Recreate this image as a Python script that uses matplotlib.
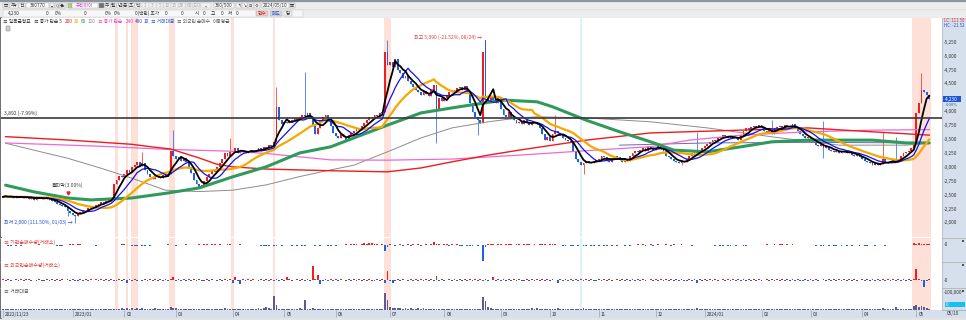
# coding=utf-8
# 일봉 차트 (360/500) - 가격, 이동평균, 기관/외국인 순매수, 거래대금

import numpy as np
import pandas as pd
import matplotlib
matplotlib.use('Agg')
import matplotlib.pyplot as plt
from matplotlib.patches import Rectangle

plt.rcParams['font.family'] = ['Noto Sans CJK KR', 'DejaVu Sans']

W, H = 966, 320

# ---------------- data ----------------
krx_holidays = ['2022-12-30', '2023-01-23', '2023-01-24', '2023-03-01', '2023-05-01',
                '2023-05-05', '2023-05-29', '2023-06-06', '2023-08-15', '2023-09-28',
                '2023-09-29', '2023-10-02', '2023-10-03', '2023-10-09', '2023-12-25',
                '2023-12-29', '2024-01-01', '2024-02-09', '2024-02-12', '2024-03-01',
                '2024-04-10', '2024-05-01', '2024-05-06']
dates = pd.bdate_range('2022-11-23', '2024-05-10')
dates = dates[~dates.isin(pd.to_datetime(krx_holidays))]

close_2211 = [2470, 2490, 2460, 2480, 2450, 2470]
close_2212 = [2460, 2480, 2450, 2470, 2440, 2460, 2420, 2450, 2470, 2440, 2430, 2450, 2410,
              2400, 2380, 2350, 2320, 2300, 2280, 2220, 2180]
close_2301 = [2150, 2120, 2180, 2200, 2240, 2230, 2270, 2300, 2290, 2330, 2350, 2380, 2360,
              2400, 2420, 2450, 2700, 2780, 2850, 2820]
close_2302 = [2880, 2950, 2920, 3000, 3050, 3100, 3020, 3080, 2950, 2880, 2820, 2800, 2850,
              2830, 2810, 2860, 2840, 2880, 3300, 3200]
close_2303 = [3150, 3180, 3120, 3160, 3100, 3000, 2900, 2780, 2700, 2650, 2680, 2750, 2820,
              2880, 2950, 2920, 3000, 3080, 3150, 3250, 3200, 3280]
close_2304 = [3300, 3350, 3260, 3300, 3280, 3250, 3300, 3320, 3280, 3300, 3340, 3320, 3360,
              3350, 3400, 3380, 3450, 4080, 3850, 3780]
close_2305 = [3820, 3800, 3850, 3830, 3880, 3850, 3900, 3950, 3920, 3980, 3900, 3750, 3600,
              3700, 3850, 3900, 3950, 3880, 3750, 3620]
close_2306 = [3560, 3520, 3600, 3540, 3500, 3580, 3620, 3650, 3700, 3680, 3750, 3800, 3850,
              3900, 3880, 3950, 3920, 3980, 4000, 5080, 4850]
close_2307 = [4900, 4800, 4950, 4750, 4700, 4600, 4650, 4550, 4500, 4450, 4400, 4350, 4300,
              4380, 4320, 4280, 4400, 4480, 4050, 4250, 4200]
close_2308 = [4250, 4300, 4350, 4400, 4380, 4420, 4450, 4400, 4460, 4350, 4150, 4000, 3900,
              3850, 3800, 5080, 4250, 4200, 4280, 4220, 4150, 4250]
close_2309 = [4050, 3950, 3900, 4000, 3880, 3850, 3800, 3820, 3780, 3850, 3800, 3760, 3800,
              3820, 3780, 3700, 3600, 3500, 3550]
close_2310 = [3480, 3600, 3650, 3620, 3580, 3520, 3500, 3480, 3450, 3300, 3150, 3100, 3050,
              3080, 3120, 3100, 3080, 3100, 3130]
close_2311 = [3150, 3200, 3180, 3120, 3100, 3150, 3200, 3180, 3130, 3100, 3150, 3120, 3200,
              3250, 3300, 3280, 3320, 3350, 3300, 3380, 3350, 3320]
close_2312 = [3350, 3380, 3330, 3300, 3200, 3180, 3150, 3120, 3100, 3080, 3120, 3100, 3150,
              3200, 3250, 3280, 3260, 3300, 3350]
close_2401 = [3380, 3420, 3450, 3500, 3480, 3530, 3550, 3580, 3560, 3530, 3550, 3520, 3540,
              3500, 3580, 3650, 3700, 3680, 3720, 3750, 3730, 3760]
close_2402 = [3700, 3650, 3620, 3680, 3600, 3700, 3720, 3750, 3700, 3760, 3740, 3720, 3780,
              3700, 3650, 3600, 3560, 3520, 3540]
close_2403 = [3500, 3450, 3400, 3380, 3420, 3350, 3380, 3320, 3300, 3280, 3300, 3260, 3280,
              3300, 3250, 3280, 3230, 3200, 3220, 3180]
close_2404 = [3150, 3120, 3100, 3080, 3050, 3070, 3040, 3060, 3150, 3100, 3080, 3100, 3120,
              3100, 3150, 3200, 3250, 3280, 3300, 3350, 3400]
close_2405 = [3980, 4150, 4400, 4350, 4300, 4230]

# gap opens and long wicks (bar index -> price)
open_gap = {187: 5300}
high_wick = {54: 3280, 66: 3670, 88: 3530, 106: 4450, 117: 4720, 149: 5300, 187: 5260,
             214: 3940, 269: 3640, 298: 3860, 318: 3830, 341: 3640, 346: 3550, 356: 4700}
low_wick = {25: 2130, 28: 2000, 168: 3440, 184: 3580, 225: 2880, 263: 3050, 318: 3170}

# notes printed on the chart
high_note = (187, 5390, -21.52)
low_note = (28, 2000, 111.50)
line_price = 3892
line_pct = -7.99
price_now = 4230

# long moving averages (bar index, price)
ma60_idx = [1, 12, 25, 34, 50, 64, 76, 89, 102, 115, 127, 136, 149, 162, 174, 181, 194, 207,
            213, 226, 239, 251, 260, 273, 286, 298, 312, 324, 337, 350, 359]
ma60_val = [2680, 2560, 2450, 2415, 2450, 2540, 2630, 2830, 3010, 3260, 3370, 3530, 3760, 3980,
            4070, 4120, 4210, 4180, 4090, 3850, 3640, 3460, 3310, 3280, 3370, 3460, 3490, 3490,
            3490, 3440, 3440]
ma120_idx = [1, 12, 25, 38, 50, 63, 76, 89, 102, 115, 127, 136, 149, 162, 174, 188, 200, 207,
             226, 251, 273, 298, 324, 350, 359]
ma120_val = [3435, 3310, 3165, 2985, 2805, 2590, 2565, 2590, 2685, 2835, 2955, 3040, 3280, 3530,
             3710, 3820, 3890, 3910, 3890, 3820, 3710, 3550, 3400, 3400, 3440]
ma200_idx = [1, 25, 50, 57, 65, 76, 83, 89, 102, 127, 149, 162, 174, 188, 200, 213, 226, 251,
             286, 312, 337, 359]
ma200_val = [3553, 3493, 3415, 3373, 3330, 3170, 3055, 3010, 2970, 2940, 2920, 2990, 3100, 3220,
             3310, 3400, 3490, 3620, 3670, 3710, 3640, 3580]
ma240_idx = [1, 38, 63, 89, 102, 127, 149, 174, 200, 226, 251, 266, 286, 312, 337, 359]
ma240_val = [3440, 3380, 3325, 3290, 3250, 3135, 3130, 3150, 3220, 3300, 3373, 3490, 3580, 3640,
             3670, 3680]
ma480_idx = [239, 273, 312, 359]
ma480_val = [3400, 3440, 3450, 3440]

# 기관 / 외국인 순매수 : '+' 소량 매수, '-' 소량 매도, '.' 없음 (+ 큰 값)
inst_marks = ('..--.-.-..' '....+.....' '.---..++.+' '+.....-...' '......++..' '---.--.-..'
              '....+..-..' '.+....+.++' '.++.+..++.' '..+.......' '----.--.-.' '..-.-.--..'
              '.-.-..--.-' '...+.+++.+' '.+.+++.+++' '+.-.+-.+-+' '.+-.+.+.++' '.++-+.+--.'
              '---.-.-.++' '+.++.+++.+' '+.+++.+.++' '+.+++..--.' '--.-.--.--' '.-.--.-.-.'
              '.-.-..+.+-' '.+-.+..+.-' '+..+...-..' '......-.--' '.--.-..--.' '......+..+'
              '.++.+.+...' '.....-.--.' '-.--.-.-.-' '..-.--..-.' '..-.......' '...++.++++')
inst_big = {140: 10, 142: 10, 143: 10, 148: -30, 149: -10, 167: 15, 186: -80, 187: -10,
            353: 10, 355: 8}
frgn_marks = ('+-+-.+-+-+' '+-.-+--+-+' '-+-+.+-+--' '+-+-+.+-+-' '+-+--+-+.+' '-+-.-+-+-+'
              '-+-+-+.-+-' '+-+-+-+--+' '-+.-+-+-+-' '+--+-+-+.-' '+-+-+-+-+-' '-+-.+-+-+-'
              '-+-+-+-+-+' '-+.-+-+-+-' '+-+--+-+-+' '-+-+-+.-+-' '+-+-+-+-+-' '+-.+-+-+-+'
              '-+-+-+-+-.' '+-+-+-+-+-' '+--+-+-+-+' '-+-+.-+-+-' '+-+-+-+-+-' '-+-+-+-.+-'
              '+-+-+-+-+-' '.+-+-+-+-+' '-+-+--+-+-' '+-+-+-+-.+' '-+-+-+-+-+' '-+-+-.+-+-'
              '+-+-+-+-+-' '-+-+-+-.+-' '+-+-+-+-+-' '+-.+-+-+-+' '-+-+-+-+-+' '-+-+-+-+-+')
frgn_big = {48: -15, 66: 15, 89: -15, 90: 15, 92: -20, 110: 15, 120: 70, 122: 25, 123: -20,
            148: -15, 149: 45, 151: -15, 168: 20, 190: 15, 215: -15, 269: -15, 354: 55, 357: -35}
# 거래대금 : 숫자 x 3,000 (+ 큰 값)
tv_marks = ('1212112121' '2112121121' '1211212112' '1212121121' '2112123232' '3231212123'
            '2121232312' '1212121212' '1212123212' '1212121212' '2323212121' '2121212121'
            '2121212121' '2121212121' '2121212121' '3434323232' '2323212121' '2121212121'
            '2121212323' '2121212121' '1212121212' '1212121212' '1212121212' '1212121212'
            '1212121212' '1212121212' '1212121212' '1212121212' '1212121212' '1212121212'
            '1212121212' '1212121212' '1212121212' '1212121212' '1212121212' '1212123232')
tv_big = {50: 12000, 54: 12000, 65: 18000, 66: 12000, 99: 12000, 102: 18000, 105: 82000,
          106: 29000, 115: 12000, 117: 59000, 120: 12000, 148: 100000, 149: 59000,
          150: 18000, 151: 12000, 186: 76000, 187: 53000, 188: 18000, 189: 12000,
          205: 12000, 207: 12000, 215: 12000, 225: 12000, 269: 12000, 341: 12000,
          346: 18000, 353: 24000, 354: 29000, 355: 18000, 356: 24000, 357: 18000}

hot_days = [44, 48, 50, 51, 52, 65, 66, 89, 105, 148, 149, 150,
            353, 354, 355, 356, 357, 358, 359]
cool_days = [224]

legend_labels = ['≡ 일목균형표', '≡ 종가 단순 5', '200', '20', '60', '120', '≡ 종가 단순', '240',
                 '480', '10', '≡ 거래대금', '≡ 외국인 순매수', '이동평균']
legend_colors = ['#333333', '#333333', '#e02020', '#f0a000', '#1d9a50', '#888888', '#e040c0',
                 '#e040c0', '#4b4bb0', '#2020ff', '#2050d0', '#555555', '#555555']

# ---------------- build series ----------------
closes = np.array(close_2211 + close_2212 + close_2301 + close_2302 + close_2303 + close_2304
                  + close_2305 + close_2306 + close_2307 + close_2308 + close_2309 + close_2310
                  + close_2311 + close_2312 + close_2401 + close_2402 + close_2403 + close_2404
                  + close_2405, dtype=float)
n = len(closes)
assert n == len(dates), (n, len(dates))
xs = np.arange(n)
opens = np.r_[closes[0], closes[:-1]]
for i, v in open_gap.items():
    opens[i] = v
highs = np.maximum(opens, closes)
lows = np.minimum(opens, closes)
for i, v in high_wick.items():
    highs[i] = v
for i, v in low_wick.items():
    lows[i] = v

sign = {'+': 5, '-': -5, '.': 0}
inst = np.array([sign[c] for c in inst_marks], dtype=float)
frgn = np.array([sign[c] for c in frgn_marks], dtype=float)
tv = np.array([int(c) * 3000 for c in tv_marks], dtype=float)
for i, v in inst_big.items():
    inst[i] = v
for i, v in frgn_big.items():
    frgn[i] = v
for i, v in tv_big.items():
    tv[i] = v
assert len(inst) == n and len(frgn) == n and len(tv) == n

s = pd.Series(closes)
ma5 = s.rolling(5, min_periods=1).mean()
ma10 = s.rolling(10, min_periods=1).mean()
ma20 = s.rolling(20, min_periods=1).mean()

RED = '#f01e1e'
BLUE = '#1f5fe0'
HOT = '#fde1d9'
COOL = '#ddf3fb'
PANEL = '#d6e0ec'
GRID = '#b4b4b4'

# ---------------- figure ----------------
fig = plt.figure(figsize=(W / 100, H / 100), dpi=100)
fig.patch.set_facecolor('white')


def px_axes(x0, y0, x1, y1):
    a = fig.add_axes([x0 / W, 1 - y1 / H, (x1 - x0) / W, (y1 - y0) / H])
    return a


def clean(a):
    a.set_xticks([])
    a.set_yticks([])
    for sp in a.spines.values():
        sp.set_visible(False)


bg = fig.add_axes([0, 0, 1, 1])
bg.set_zorder(-1)
bg.set_xlim(0, W)
bg.set_ylim(H, 0)
bg.axis('off')

XL = (-0.78, 363.95)
ax = px_axes(1, 18, 942, 237)
ax_inst = px_axes(1, 238, 942, 262)
ax_frgn = px_axes(1, 262, 942, 288)
ax_tv = px_axes(1, 288, 942, 310)
ax_date = px_axes(1, 310, 942, 318)
for a in (ax, ax_inst, ax_frgn, ax_tv, ax_date):
    a.set_xlim(*XL)
    clean(a)
ax_date.set_facecolor(PANEL)
ax.set_ylim(1748, 5687)
ax_inst.set_ylim(-85, 35)
ax_frgn.set_ylim(-40, 90)
ax_tv.set_ylim(0, 129400)
ax_date.set_ylim(0, 1)

# highlighted days
for a in (ax, ax_inst, ax_frgn, ax_tv):
    for d in hot_days:
        a.axvspan(d - 0.5, d + 0.5, color=HOT, lw=0, zorder=0)
    for d in cool_days:
        a.axvspan(d - 0.5, d + 0.5, color=COOL, lw=0, zorder=0)

# candles
up = closes >= opens
cols = np.where(up, RED, BLUE)
ax.vlines(xs, lows, highs, colors=cols, lw=0.5, zorder=3)
body_lo = np.minimum(opens, closes)
body_h = np.maximum(np.abs(closes - opens), 10)
ax.bar(xs, body_h, 0.72, bottom=body_lo, color=cols, lw=0, zorder=3)

# moving averages
ax.plot(ma120_idx, ma120_val, color='#8c8c8c', lw=0.7, zorder=4)
ax.plot(ma480_idx, ma480_val, color='#6a6ab0', lw=0.7, zorder=4)
ax.plot(ma240_idx, ma240_val, color='#ee6ad0', lw=0.9, zorder=4)
ax.plot(ma200_idx, ma200_val, color='#ee1c1c', lw=1.0, zorder=4)
ax.plot(ma60_idx, ma60_val, color='#2f9a5c', lw=2.2, zorder=4, solid_capstyle='round')
ax.plot(xs, ma20, color='#f5a800', lw=1.6, zorder=5)
ax.plot(xs, ma10, color='#1212f0', lw=0.9, zorder=6)
ax.plot(xs, ma5, color='#000000', lw=1.3, zorder=7)

# reference line
ax.axhline(line_price, color='#3a3a3a', lw=1.2, zorder=8)
ax.text(0.2, line_price + 35, f'{line_price:,} ({line_pct:.2f}%)', fontsize=3.6,
        color='#333333', va='bottom', ha='left', zorder=9)

# high / low notes
hi_i, hi_p, hi_pct = high_note
lo_i, lo_p, lo_pct = low_note
ax.annotate(f'최고 {hi_p:,} ({hi_pct:.2f}%, {dates[hi_i]:%m/%d}) →', xy=(hi_i, highs[hi_i]),
            xytext=(-2.5, 1.5), textcoords='offset points', ha='right', va='bottom',
            fontsize=3.6, color='#e8383d', zorder=9)
ax.annotate(f'최저 {lo_p:,} ({lo_pct:.2f}%, {dates[lo_i]:%m/%d}) →', xy=(lo_i, lows[lo_i]),
            xytext=(-2, 0.5), textcoords='offset points', ha='right', va='center',
            fontsize=3.6, color='#2a4fd0', zorder=9)
ax.plot(25, highs[25] + 260, marker='v', ms=2.2, color=RED, zorder=9)
ax.annotate('돌파막(3.00%)', xy=(25, highs[25]), xytext=(0, 14), textcoords='offset points',
            ha='center', va='bottom', fontsize=3.6, color='#444444', zorder=9)
ax.add_patch(Rectangle((1.2, 5460), 1.6, 80, facecolor='#cfcfcf', edgecolor='#777777', lw=0.3,
                       zorder=9))

# sub panels
ax_inst.bar(xs, inst, 0.72, color=np.where(inst > 0, RED, BLUE), lw=0, zorder=3)
ax_frgn.bar(xs, frgn, 0.72, color=np.where(frgn > 0, RED, BLUE), lw=0, zorder=3)
ax_tv.bar(xs, tv, 0.72, color='#5d5c92', lw=0, zorder=3)

ax_inst.text(0.5, 28, '≡ 기관순매수량(거래소)', fontsize=3.6, color='#e03c3c', va='top')
ax_frgn.text(0.5, 86, '≡ 외국인순매수량(거래소)', fontsize=3.6, color='#e03c3c', va='top')
ax_tv.text(0.5, 125000, '≡ 거래대금', fontsize=3.6, color='#555555', va='top')

# date axis
month_first = [0] + [i for i in range(1, n) if dates[i].month != dates[i - 1].month]
last_lab = -100
for i in month_first:
    d = dates[i]
    if i - last_lab < 15:
        continue
    if i == 0:
        lab = f'{d:%Y/%m/%d}'
    elif d.month == 1:
        lab = f'{d:%Y/%m}'
    else:
        lab = f'{d:%m}'
    last_lab = i
    ax_date.vlines(i, 0.15, 1, color='#8a96a8', lw=0.4)
    ax_date.text(i + 0.8, 0.45, lab, fontsize=3.4, color='#333333', va='center', ha='left')

# ---------------- decorations (pixel space) ----------------
# toolbar
bg.add_patch(Rectangle((0, 0), W, 18, facecolor='#ececec', edgecolor='none'))
bg.plot([0, W], [0.8, 0.8], color='#8e949b', lw=1.6)
bg.plot([0, W], [9.3, 9.3], color='#dadada', lw=0.4)
bg.plot([0, W], [17.6, 17.6], color='#c2c2c2', lw=0.5)


def box(x, y, w, h, fc, ec='#a8a8a8', text=None, tc='#333333', fs=3.4):
    bg.add_patch(Rectangle((x, y), w, h, facecolor=fc, edgecolor=ec, lw=0.35))
    if text:
        bg.text(x + w / 2, y + h / 2, text, fontsize=fs, color=tc, ha='center', va='center')


box(3, 2.8, 6, 5.6, '#f6f6f6', text='▤', fs=3)
box(10, 2.8, 8, 5.6, '#ffffff', text='주▾')
box(19, 2.8, 6, 5.6, '#ffffff', text='전')
box(26, 2.8, 23, 5.6, '#ffffff', text='360770')
box(50, 2.8, 4, 5.6, '#f6f6f6', text='▾', fs=3)
box(55, 2.8, 4.5, 5.6, '#f6f6f6', text='Q', fs=3)
box(60, 2.8, 6, 5.6, '#f6f6f6', text='◆▸', fs=2.8)
box(68, 2.8, 4, 5.6, '#a9cf8a')
box(72, 2.8, 26, 5.6, '#ffffff', text='유티아이', tc='#c83cc0')
box(99, 2.8, 4.5, 5.6, '#707070')
for k, t in enumerate(['주', '월', '년', '분', '초', '틱']):
    box(104.5 + k * 6, 2.8, 5.5, 5.6, '#ffffff', text=t)
for k, t in enumerate(['1', '3', '5', '10', '15', '30', '60', '120']):
    box(142 + k * 7.3, 2.8, 6.6, 5.6, '#f3f3f3', ec='#c8c8c8', text=t, tc='#a6a6a6')
box(201, 2.8, 10, 5.6, '#f3f3f3', ec='#c8c8c8', text='▾', tc='#888888', fs=3)
box(214, 2.8, 20, 5.6, '#ffffff', text='360/500')
for k, t in enumerate(['↰', '↘', '⊟', '⚙']):
    box(236 + k * 6, 2.8, 5.5, 5.6, '#f6f6f6', text=t, fs=3)
box(262, 2.8, 27, 5.6, '#ffffff', text='2024/05/10')
box(289.5, 2.8, 5, 5.6, '#f6f6f6', text='▦', fs=3)

bg.add_patch(Rectangle((3, 10.2), 300, 6.4, facecolor='#f7f7f7', edgecolor='#c8c8c8', lw=0.35))
row2 = [(14, '4,230'), (47, '0'), (58, '0%'), (85, '0'), (108, '0%'), (117, '0%'),
        (147, '0(백만) 조가'), (166, '0'), (182, '0'), (197, '시'), (204, '0'), (213, '고'),
        (222, '0'), (230, '저'), (237, '0')]
for xp, t in row2:
    bg.text(xp, 13.4, t, fontsize=3.4, color='#333333', ha='center', va='center')
box(256, 10.6, 12, 5.6, '#f6cbc6', text='현수', tc='#b03030')
box(270, 10.6, 12, 5.6, '#c9d9f0', text='매도', tc='#3050a0')
box(284, 10.6, 8, 5.6, '#f6f6f6', text='탐')

# right price panel
bg.add_patch(Rectangle((942, 18), W - 942, 292, facecolor=PANEL, edgecolor='none'))
bg.plot([942, 942], [18, 310], color='#a9b6c8', lw=0.5)
bg.add_patch(Rectangle((0, 310), W, 8, facecolor=PANEL, edgecolor='none'))
bg.add_patch(Rectangle((0, 318), W, 2, facecolor='#e4e4e4', edgecolor='none'))
bg.plot([0.6, 0.6], [18, 318], color='#555555', lw=1.2)
for yy in (237.6, 262, 288.2):
    bg.plot([0, W], [yy, yy], color=GRID, lw=0.6)
bg.plot([0, W], [310.2, 310.2], color='#9aa6b6', lw=0.5)

ov = fig.add_axes([0, 0, 1, 1])
ov.set_zorder(20)
ov.patch.set_visible(False)
ov.set_xlim(0, W)
ov.set_ylim(H, 0)
ov.axis('off')

# legend row, laid out one piece after another
renderer = fig.canvas.get_renderer()
xp = 3
for t, c in zip(legend_labels, legend_colors):
    tx = ov.text(xp, 21.6, t, fontsize=3.4, color=c, ha='left', va='center')
    xp = tx.get_window_extent(renderer).x1 + (3 if t.startswith('≡') or t == '120' else 1.5)

# price scale
trans = ax.get_yaxis_transform()
for p in range(2000, 5251, 250):
    if abs(p - price_now) < 100:
        continue
    ax.text(1.002, p, f'-{p:,}', transform=trans, fontsize=3.4, color='#333333',
            ha='left', va='center', clip_on=False)
ax.text(1.002, price_now, f' {price_now:,}    ', transform=trans, fontsize=3.4,
        color='white', ha='left', va='center', clip_on=False, zorder=12,
        bbox=dict(boxstyle='square,pad=0.1', fc='#1d56d0', ec='none'))
ax.text(1.004, price_now - 115, '0.00%', transform=trans, fontsize=3.0, color='#1d56d0',
        ha='left', va='center', clip_on=False)
ov.text(944, 21.0, 'LC: 111.50', fontsize=3.1, color='#e03030', ha='left', va='center')
ov.text(944, 25.8, 'HC: -21.52', fontsize=3.1, color='#2050d0', ha='left', va='center')

ax_inst.text(1.002, 0, '-0', transform=ax_inst.get_yaxis_transform(), fontsize=3.4,
             color='#333333', ha='left', va='center', clip_on=False)
ax_frgn.text(1.002, 0, '-0', transform=ax_frgn.get_yaxis_transform(), fontsize=3.4,
             color='#333333', ha='left', va='center', clip_on=False)
ax_tv.text(1.002, 100000, '-100,000', transform=ax_tv.get_yaxis_transform(), fontsize=3.4,
           color='#333333', ha='left', va='center', clip_on=False)
ov.add_patch(Rectangle((944.5, 302), 20.5, 5, facecolor='#18c0f2', edgecolor='none'))
ov.text(946, 304.5, '0', fontsize=3.2, color='white', ha='left', va='center')
for yy in (239.5, 263.5, 289.5):
    ov.add_patch(Rectangle((961.5, yy), 2.5, 2.5, facecolor='#555555', edgecolor='none'))
ov.text(947, 314, f'{dates[-1]:%m/%d}', fontsize=3.4, color='#333333', ha='left', va='center')

fig.savefig('out.png', dpi=100)
